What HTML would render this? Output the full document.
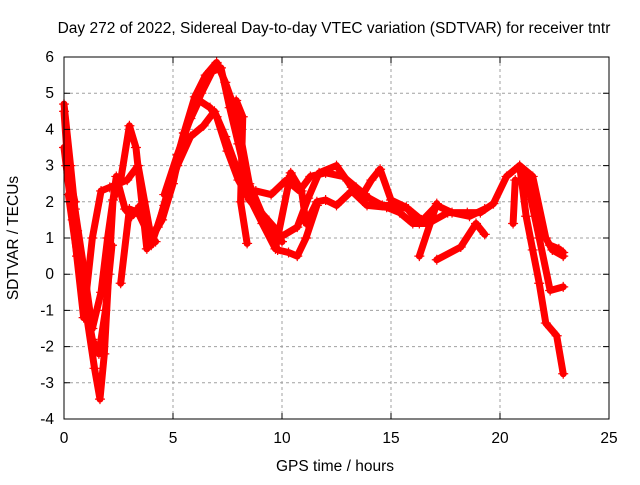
<!DOCTYPE html>
<html><head><meta charset="utf-8"><style>
body{margin:0;background:#fff}
svg{font-family:"Liberation Sans",sans-serif;font-size:15.5px}
</style></head><body>
<svg id="chart" width="640" height="480">
<text x="334" y="33" text-anchor="middle">Day 272 of 2022, Sidereal Day-to-day VTEC variation (SDTVAR) for receiver tntr</text>
<g id="grid"></g><g id="series"></g><g id="axes"></g>
<text x="335" y="471" text-anchor="middle">GPS time / hours</text>
<text transform="translate(18,238) rotate(-90)" text-anchor="middle">SDTVAR / TECUs</text>
</svg>
<script>
const xTicks=[0,5,10,15,20,25];
const yTicks=[-4,-3,-2,-1,0,1,2,3,4,5,6];
const track1T=[0,0.3,0.6,1.0,1.4,1.65,1.85,2.05,2.25,2.6,3.0,3.3,3.8,4.3,5.0,5.5,6.0,6.5,7.0,7.4,7.9,8.5,9.2,9.8,10.3,10.7,11.1,11.6];
const track1V=[4.7,3.0,1.2,-1.0,-2.6,-3.45,-2.2,0.0,2.05,2.6,4.1,3.5,0.7,1.3,2.8,3.9,4.9,5.5,5.85,5.3,4.45,2.5,1.5,0.67,0.6,0.5,1.0,1.9];
const track2T=[0,0.4,0.9,1.3,1.7,2.1,2.5,2.9,3.4,3.7,4.0,4.5,5.0,5.5,6.2,6.7,7.0,7.5,8.0,8.5,9.2,10.0,10.7,11.2,11.7,12.5,13.2,13.7,14.1,14.5,15.0,15.7,16.3,17.1,17.8,18.6,19.3];
const track2V=[3.5,1.5,-1.2,1.0,2.3,2.4,2.5,2.6,3.0,2.0,1.0,1.5,2.5,3.9,4.8,4.6,4.35,3.4,2.6,2.05,1.6,1.05,1.3,2.1,2.8,3.0,2.4,2.2,2.6,2.9,2.05,1.85,1.4,1.9,1.7,1.6,1.8];
const track3T=[0.1,0.5,0.9,1.3,1.7,2.0,2.4,2.8,3.1,3.5,4.0,4.6,5.2,5.8,6.4,6.9,7.4,8.0,8.6,9.1,9.7,10.4,10.9,11.1,11.6,12.0,12.5,13.2,13.9,14.8,15.4,16.0,16.7,17.6,18.5,19.1,19.7,20.3,20.9,21.5,22.1,22.4,22.9];
const track3V=[3.0,1.8,0.2,-1.5,-0.5,1.0,2.7,1.8,1.6,1.9,0.8,1.9,3.0,3.8,4.1,4.5,3.8,2.8,2.0,1.4,0.7,2.8,2.3,1.4,2.0,2.05,1.9,2.3,1.9,1.85,1.7,1.4,1.4,1.7,1.7,1.7,1.95,2.7,3.0,2.7,1.0,0.67,0.5];
const track4T=[2.6,3.0,3.4,3.8,4.2];
const track4V=[-0.25,1.8,1.7,1.2,0.9];
const track5T=[7.9,8.2,8.1,8.4];
const track5V=[4.8,4.35,2.0,0.85];
const track6T=[16.3,17.1];
const track6V=[0.5,1.95];
const track7T=[17.1,18.2,18.9,19.3];
const track7V=[0.4,0.75,1.4,1.1];
const track8T=[20.9,21.2,21.5,21.8,22.1,22.6,22.9];
const track8V=[3.0,1.6,0.67,-0.25,-1.35,-1.7,-2.75];
const track9T=[21.2,21.8,22.3,22.9];
const track9V=[2.7,1.0,-0.45,-0.35];
const track10T=[20.7,20.6];
const track10V=[2.6,1.4];
const track11T=[0.2,0.6,1.0,1.3,1.6,1.9,2.2];
const track11V=[2.2,0.5,-0.8,-1.8,-2.2,-1.0,0.8];
const track12T=[4.6,5.2,5.8,6.3,6.8,7.2,7.6,8.0,8.5,9.0,9.6,10.0];
const track12V=[2.2,3.3,4.3,5.0,5.6,5.7,4.6,3.6,2.3,1.7,1.2,0.9];
const track13T=[8.8,9.5,10.2,10.8,11.3,12.0,12.8,13.4,14.0,14.6,15.2,15.8,16.4];
const track13V=[2.3,2.2,2.6,2.3,2.7,2.8,2.7,2.4,2.1,1.9,1.9,1.8,1.5];
const track14T=[0,0.2,0.5];
const track14V=[4.5,2.8,2.0];
const track15T=[22.3,22.7,22.9];
const track15V=[0.8,0.7,0.6];
const tracks=[[track1T,track1V],[track2T,track2V],[track3T,track3V],[track4T,track4V],[track5T,track5V],[track6T,track6V],[track7T,track7V],[track8T,track8V],[track9T,track9V],[track10T,track10V],[track11T,track11V],[track12T,track12V],[track13T,track13V],[track14T,track14V],[track15T,track15V]];
const X0=64,X1=609,Y0=57,Y1=419;
const sx=t=>X0+(t-0)/(25-0)*(X1-X0);
const sy=v=>Y1-(v+4)/(6+4)*(Y1-Y0);
const NS="http://www.w3.org/2000/svg";
function mk(tag,attrs,parent){const e=document.createElementNS(NS,tag);for(const k in attrs)e.setAttribute(k,attrs[k]);parent.appendChild(e);return e;}
const grid=document.getElementById('grid'),axes=document.getElementById('axes'),ser=document.getElementById('series');
xTicks.forEach(t=>{
  if(t>0&&t<25){const g=mk('line',{x1:sx(t),x2:sx(t),y1:Y0,y2:Y1,stroke:'#a0a0a0','stroke-dasharray':'3,3'},grid);
  
  }
  const tk=mk('path',{d:`M${sx(t)},${Y1}v-6M${sx(t)},${Y0}v6`,stroke:'#000'},axes);
  
  
  const l=mk('text',{x:sx(t),y:443,'text-anchor':'middle'},axes);l.textContent=t;
  
  
});
yTicks.forEach(v=>{
  if(v>-4&&v<6){const g=mk('line',{x1:X0,x2:X1,y1:sy(v),y2:sy(v),stroke:'#a0a0a0','stroke-dasharray':'3,3'},grid);
  
  }
  const tk=mk('path',{d:`M${X0},${sy(v)}h6M${X1},${sy(v)}h-6`,stroke:'#000'},axes);
  
  
  const l=mk('text',{x:54,y:sy(v)+5,'text-anchor':'end'},axes);l.textContent=v;
  
  
});
const frame=mk('rect',{x:X0,y:Y0,width:X1-X0,height:Y1-Y0,fill:'none',stroke:'#000'},axes);


tracks.forEach(([T,V],i)=>{
  const pts=T.map((t,j)=>sx(t)+','+sy(V[j])).join(' ');
  const pl=mk('polyline',{points:pts,fill:'none',stroke:'#ff0000','stroke-width':7,'stroke-linejoin':'round','stroke-linecap':'round'},ser);
  
  
  T.forEach((t,j)=>{
    const m=mk('path',{d:`M${sx(t)-5},${sy(V[j])}h10M${sx(t)},${sy(V[j])-5}v10`,stroke:'#ff0000','stroke-width':1.2},ser);
    
    
  });
});
</script>
</body></html>
